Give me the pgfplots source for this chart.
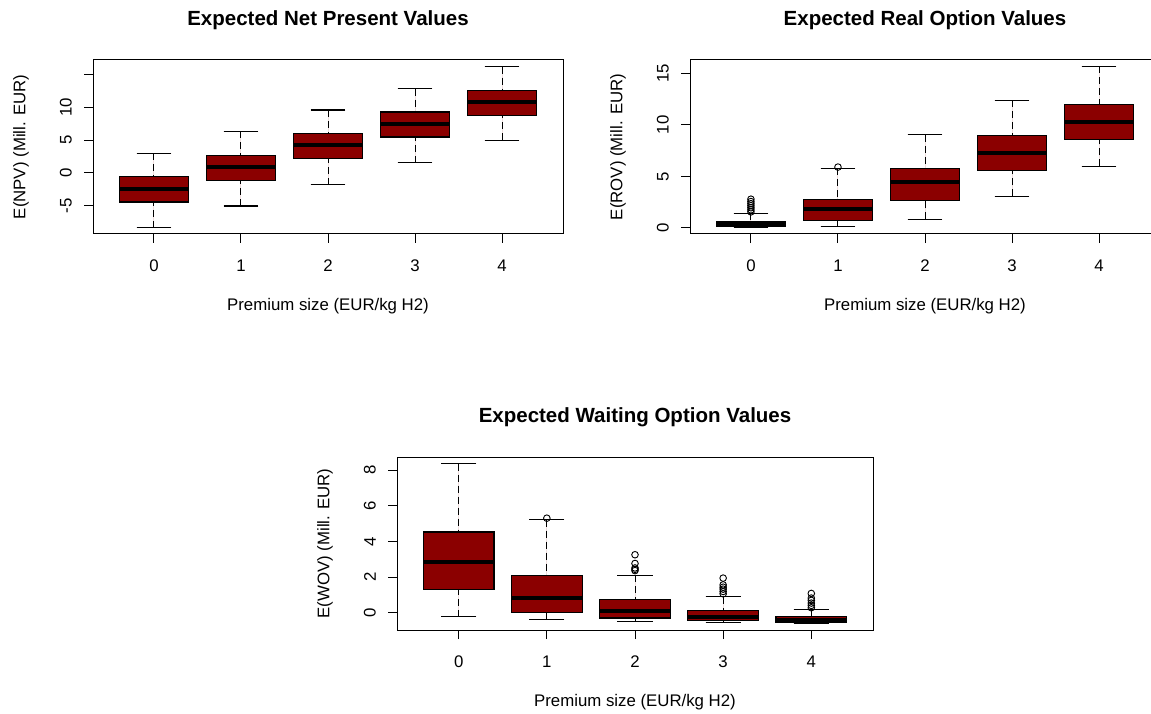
\documentclass[border=0pt]{standalone}
\usepackage{fontspec}
\setmainfont{Liberation Sans}
\usepackage{pgfplots}
\pgfplotsset{compat=1.18}
\usepgfplotslibrary{statistics}
\definecolor{boxred}{HTML}{8B0000}
\newcommand{\lblfont}{\fontsize{16.8}{20}\selectfont}
\newcommand{\ttlfont}{\bfseries\fontsize{20.5}{24}\selectfont}
\pgfplotsset{
  raxis/.style={
    scale only axis, width=470pt, height=174pt,
    xmin=-0.7, xmax=4.7, xtick={0,1,2,3,4},
    axis line style={black, line width=1pt},
    tick style={black, line width=1pt},
    tick align=outside, major tick length=9pt, tick pos=left,
    /pgf/number format/assume math mode=true,
    xticklabel style={font=\lblfont, anchor=north, inner sep=0pt},
    xticklabel shift=17pt,
    yticklabel style={font=\lblfont, rotate=90, anchor=south, inner sep=0pt},
    yticklabel shift=12pt,
    every axis title/.style={at={(axis description cs:0.5,1)}, anchor=center, yshift=40pt, font=\ttlfont},
    every axis x label/.style={at={([yshift=-72pt]axis description cs:0.5,0)}, anchor=center, font=\lblfont},
    every axis y label/.style={at={([xshift=-72pt]axis description cs:0,0.5)}, rotate=90, anchor=center, font=\lblfont},
    xlabel={Premium size (EUR/kg H2)},
  },
  rbox/.style={
    draw=black, line width=1.2pt, fill=boxred, solid,
    mark=o, mark size=3.3pt, mark options={solid, fill=none, draw=black, line width=0.9pt},
    boxplot/draw direction=y,
    boxplot/box extend=0.8, boxplot/whisker extend=0.4,
    boxplot/every median/.style={line width=4pt, draw=black},
    boxplot/draw/lower whisker/.code={
      \draw[dash pattern=on 7pt off 4pt, line width=1pt]
        (boxplot box cs:\pgfplotsboxplotvalue{lower whisker},0.5) --
        (boxplot box cs:\pgfplotsboxplotvalue{lower quartile},0.5);
      \draw[solid, line width=1.2pt]
        (boxplot whisker cs:\pgfplotsboxplotvalue{lower whisker},0) --
        (boxplot whisker cs:\pgfplotsboxplotvalue{lower whisker},1);
    },
    boxplot/draw/upper whisker/.code={
      \draw[dash pattern=on 7pt off 4pt, line width=1pt]
        (boxplot box cs:\pgfplotsboxplotvalue{upper whisker},0.5) --
        (boxplot box cs:\pgfplotsboxplotvalue{upper quartile},0.5);
      \draw[solid, line width=1.2pt]
        (boxplot whisker cs:\pgfplotsboxplotvalue{upper whisker},0) --
        (boxplot whisker cs:\pgfplotsboxplotvalue{upper whisker},1);
    },
  },
}
% pos, lower whisker, lower quartile, median, upper quartile, upper whisker
\newcommand{\rb}[6]{\addplot[rbox, boxplot prepared={draw position=#1, lower whisker=#2, lower quartile=#3, median=#4, upper quartile=#5, upper whisker=#6}] coordinates {};}
\newcommand{\rbo}[7]{\addplot[rbox, boxplot prepared={draw position=#1, lower whisker=#2, lower quartile=#3, median=#4, upper quartile=#5, upper whisker=#6}] table[row sep=\\, y index=0] {v\\ #7};}
\begin{document}
\begin{tikzpicture}
\useasboundingbox (0,0) rectangle (1151pt,713pt);
% ---------- Expected Net Present Values
\begin{axis}[raxis, at={(93pt,479pt)}, anchor=south west,
  ymin=-9.35, ymax=17.28, ytick={-5,0,5,10,15}, yticklabels={-5,0,5,10,{}},
  title={Expected Net Present Values}, ylabel={E(NPV) (Mill. EUR)}]
\rb{0}{-8.39}{-4.45}{-2.4}{-0.61}{3.02}
\rb{1}{-5.07}{-1.13}{0.87}{2.66}{6.35}
\rb{2}{-1.79}{2.15}{4.2}{5.99}{9.62}
\rb{3}{1.54}{5.48}{7.47}{9.31}{12.9}
\rb{4}{5.02}{8.75}{10.8}{12.64}{16.27}
\end{axis}
% ---------- Expected Real Option Values
\begin{axis}[raxis, at={(690pt,479pt)}, anchor=south west,
  ymin=-0.6, ymax=16.3, ytick={0,5,10,15},
  title={Expected Real Option Values}, ylabel={E(ROV) (Mill. EUR)}]
\rbo{0}{0.0}{0.1}{0.38}{0.65}{1.4}{1.55\\ 1.75\\ 1.95\\ 2.15\\ 2.35\\ 2.55\\ 2.78\\}
\rbo{1}{0.1}{0.72}{1.79}{2.74}{5.8}{5.9\\}
\rb{2}{0.82}{2.67}{4.43}{5.8}{9.03}
\rb{3}{3.06}{5.54}{7.27}{8.93}{12.39}
\rb{4}{5.97}{8.61}{10.3}{12.0}{15.68}
\end{axis}
% ---------- Expected Waiting Option Values
\begin{axis}[raxis, at={(397pt,83pt)}, anchor=south west, width=476pt, height=173pt,
  ymin=-0.96, ymax=8.74, ytick={0,2,4,6,8},
  title={Expected Waiting Option Values}, ylabel={E(WOV) (Mill. EUR)}]
\rb{0}{-0.22}{1.31}{2.83}{4.54}{8.37}
\rbo{1}{-0.35}{0.0}{0.85}{2.1}{5.23}{5.31\\}
\rbo{2}{-0.47}{-0.29}{0.1}{0.73}{2.1}{2.37\\ 2.44\\ 2.52\\ 2.77\\ 3.26\\}
\rbo{3}{-0.53}{-0.42}{-0.22}{0.13}{0.9}{1.07\\ 1.2\\ 1.33\\ 1.44\\ 1.57\\ 1.95\\}
\rbo{4}{-0.59}{-0.53}{-0.42}{-0.22}{0.2}{0.29\\ 0.42\\ 0.55\\ 0.7\\ 0.83\\ 1.09\\}
\end{axis}
\end{tikzpicture}
\end{document}
